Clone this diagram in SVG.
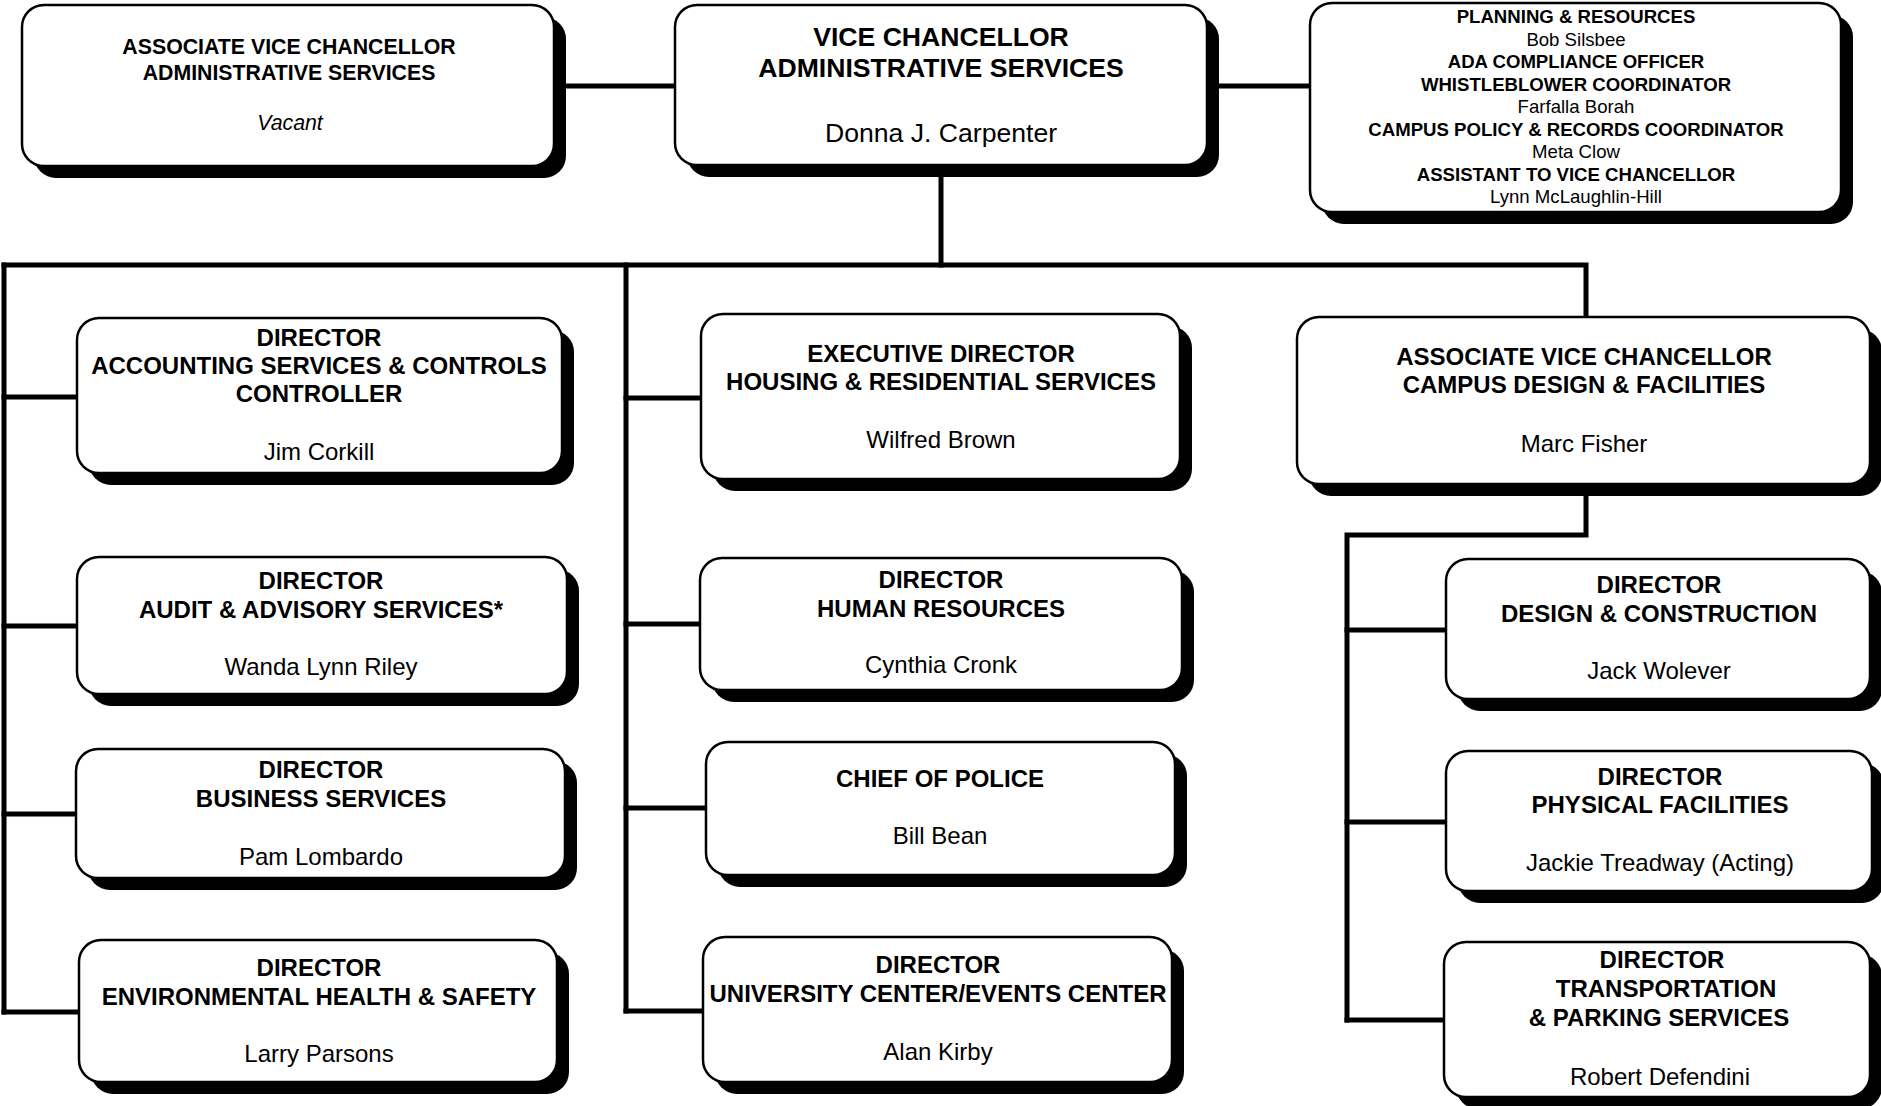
<svg xmlns="http://www.w3.org/2000/svg" width="1881" height="1106" viewBox="0 0 1881 1106">
<style>
.bg{fill:#fff}
.sh{fill:#000}
.bx{fill:#fff;stroke:#000;stroke-width:2.5}
.ln{fill:none;stroke:#000;stroke-width:5;stroke-linecap:square;stroke-linejoin:miter}
text{font-family:"Liberation Sans",Arial,sans-serif;text-anchor:middle;fill:#000}
.t{font-weight:bold;font-size:24px}
.n{font-size:24px}
.ta{font-weight:bold;font-size:21.3px}
.na{font-size:21.3px;font-style:italic}
.tv{font-weight:bold;font-size:26.6px}
.nv{font-size:26.6px}
.tr{font-weight:bold;font-size:18.6px}
.nr{font-size:18.6px}
</style>
<rect class="bg" x="0" y="0" width="1881" height="1106"/>

<g id="connectors">
  <path class="ln" d="M554 86 H675"/>
  <path class="ln" d="M1207 86 H1310"/>
  <path class="ln" d="M941 165 V265"/>
  <path class="ln" d="M4 265 H1586 V317"/>
  <path class="ln" d="M4 265 V1012"/>
  <path class="ln" d="M4 397 H77"/>
  <path class="ln" d="M4 626 H77"/>
  <path class="ln" d="M4 814 H76"/>
  <path class="ln" d="M4 1012 H79"/>
  <path class="ln" d="M626 265 V1011"/>
  <path class="ln" d="M626 398 H701"/>
  <path class="ln" d="M626 624 H700"/>
  <path class="ln" d="M626 808 H706"/>
  <path class="ln" d="M626 1011 H703"/>
  <path class="ln" d="M1586 484 V535 H1347 V1020"/>
  <path class="ln" d="M1347 630 H1446"/>
  <path class="ln" d="M1347 822 H1446"/>
  <path class="ln" d="M1347 1020 H1444"/>
</g>

<g id="avc-admin">
  <rect class="sh" x="34" y="17" width="532" height="161" rx="22"/>
  <rect class="bx" x="22" y="5" width="532" height="161" rx="22"/>
  <text class="ta" x="289" y="54">ASSOCIATE VICE CHANCELLOR</text>
  <text class="ta" x="289" y="80">ADMINISTRATIVE SERVICES</text>
  <text class="na" x="290" y="130">Vacant</text>
</g>

<g id="vice-chancellor">
  <rect class="sh" x="687" y="17" width="532" height="160" rx="22"/>
  <rect class="bx" x="675" y="5" width="532" height="160" rx="22"/>
  <text class="tv" x="941" y="46">VICE CHANCELLOR</text>
  <text class="tv" x="941" y="77">ADMINISTRATIVE SERVICES</text>
  <text class="nv" x="941" y="142">Donna J. Carpenter</text>
</g>

<g id="staff">
  <rect class="sh" x="1322" y="15" width="531" height="209" rx="22"/>
  <rect class="bx" x="1310" y="3" width="531" height="209" rx="22"/>
  <text class="tr" x="1576" y="23">PLANNING &amp; RESOURCES</text>
  <text class="nr" x="1576" y="45.5">Bob Silsbee</text>
  <text class="tr" x="1576" y="68">ADA COMPLIANCE OFFICER</text>
  <text class="tr" x="1576" y="90.5">WHISTLEBLOWER COORDINATOR</text>
  <text class="nr" x="1576" y="113">Farfalla Borah</text>
  <text class="tr" x="1576" y="135.5">CAMPUS POLICY &amp; RECORDS COORDINATOR</text>
  <text class="nr" x="1576" y="158">Meta Clow</text>
  <text class="tr" x="1576" y="180.5">ASSISTANT TO VICE CHANCELLOR</text>
  <text class="nr" x="1576" y="203">Lynn McLaughlin-Hill</text>
</g>

<g id="accounting">
  <rect class="sh" x="89" y="330" width="485" height="155" rx="22"/>
  <rect class="bx" x="77" y="318" width="485" height="155" rx="22"/>
  <text class="t" x="319" y="346">DIRECTOR</text>
  <text class="t" x="319" y="374">ACCOUNTING SERVICES &amp; CONTROLS</text>
  <text class="t" x="319" y="402">CONTROLLER</text>
  <text class="n" x="319" y="460">Jim Corkill</text>
</g>

<g id="audit">
  <rect class="sh" x="89" y="569" width="490" height="137" rx="22"/>
  <rect class="bx" x="77" y="557" width="490" height="137" rx="22"/>
  <text class="t" x="321" y="589">DIRECTOR</text>
  <text class="t" x="321" y="618">AUDIT &amp; ADVISORY SERVICES*</text>
  <text class="n" x="321" y="675">Wanda Lynn Riley</text>
</g>

<g id="business">
  <rect class="sh" x="88" y="761" width="489" height="129" rx="22"/>
  <rect class="bx" x="76" y="749" width="489" height="129" rx="22"/>
  <text class="t" x="321" y="778">DIRECTOR</text>
  <text class="t" x="321" y="807">BUSINESS SERVICES</text>
  <text class="n" x="321" y="865">Pam Lombardo</text>
</g>

<g id="env-health">
  <rect class="sh" x="91" y="952" width="478" height="142" rx="22"/>
  <rect class="bx" x="79" y="940" width="478" height="142" rx="22"/>
  <text class="t" x="319" y="976">DIRECTOR</text>
  <text class="t" x="319" y="1005">ENVIRONMENTAL HEALTH &amp; SAFETY</text>
  <text class="n" x="319" y="1062">Larry Parsons</text>
</g>

<g id="housing">
  <rect class="sh" x="713" y="326" width="479" height="165" rx="22"/>
  <rect class="bx" x="701" y="314" width="479" height="165" rx="22"/>
  <text class="t" x="941" y="362">EXECUTIVE DIRECTOR</text>
  <text class="t" x="941" y="390">HOUSING &amp; RESIDENTIAL SERVICES</text>
  <text class="n" x="941" y="448">Wilfred Brown</text>
</g>

<g id="hr">
  <rect class="sh" x="712" y="570" width="482" height="132" rx="22"/>
  <rect class="bx" x="700" y="558" width="482" height="132" rx="22"/>
  <text class="t" x="941" y="588">DIRECTOR</text>
  <text class="t" x="941" y="617">HUMAN RESOURCES</text>
  <text class="n" x="941" y="673">Cynthia Cronk</text>
</g>

<g id="police">
  <rect class="sh" x="718" y="754" width="469" height="133" rx="22"/>
  <rect class="bx" x="706" y="742" width="469" height="133" rx="22"/>
  <text class="t" x="940" y="787">CHIEF OF POLICE</text>
  <text class="n" x="940" y="844">Bill Bean</text>
</g>

<g id="university-center">
  <rect class="sh" x="715" y="949" width="469" height="145" rx="22"/>
  <rect class="bx" x="703" y="937" width="469" height="145" rx="22"/>
  <text class="t" x="938" y="973">DIRECTOR</text>
  <text class="t" x="938" y="1002">UNIVERSITY CENTER/EVENTS CENTER</text>
  <text class="n" x="938" y="1060">Alan Kirby</text>
</g>

<g id="avc-campus">
  <rect class="sh" x="1309" y="329" width="573" height="167" rx="22"/>
  <rect class="bx" x="1297" y="317" width="573" height="167" rx="22"/>
  <text class="t" x="1584" y="365">ASSOCIATE VICE CHANCELLOR</text>
  <text class="t" x="1584" y="393">CAMPUS DESIGN &amp; FACILITIES</text>
  <text class="n" x="1584" y="452">Marc Fisher</text>
</g>

<g id="design-construction">
  <rect class="sh" x="1458" y="571" width="424" height="140" rx="22"/>
  <rect class="bx" x="1446" y="559" width="424" height="140" rx="22"/>
  <text class="t" x="1659" y="593">DIRECTOR</text>
  <text class="t" x="1659" y="622">DESIGN &amp; CONSTRUCTION</text>
  <text class="n" x="1659" y="679">Jack Wolever</text>
</g>

<g id="physical-facilities">
  <rect class="sh" x="1458" y="763" width="426" height="140" rx="22"/>
  <rect class="bx" x="1446" y="751" width="426" height="140" rx="22"/>
  <text class="t" x="1660" y="785">DIRECTOR</text>
  <text class="t" x="1660" y="813">PHYSICAL FACILITIES</text>
  <text class="n" x="1660" y="871">Jackie Treadway (Acting)</text>
</g>

<g id="transportation">
  <rect class="sh" x="1456" y="954" width="426" height="155" rx="22"/>
  <rect class="bx" x="1444" y="942" width="426" height="155" rx="22"/>
  <text class="t" x="1662" y="968">DIRECTOR</text>
  <text class="t" x="1666" y="997">TRANSPORTATION</text>
  <text class="t" x="1659" y="1026">&amp; PARKING SERVICES</text>
  <text class="n" x="1660" y="1085">Robert Defendini</text>
</g>
</svg>
